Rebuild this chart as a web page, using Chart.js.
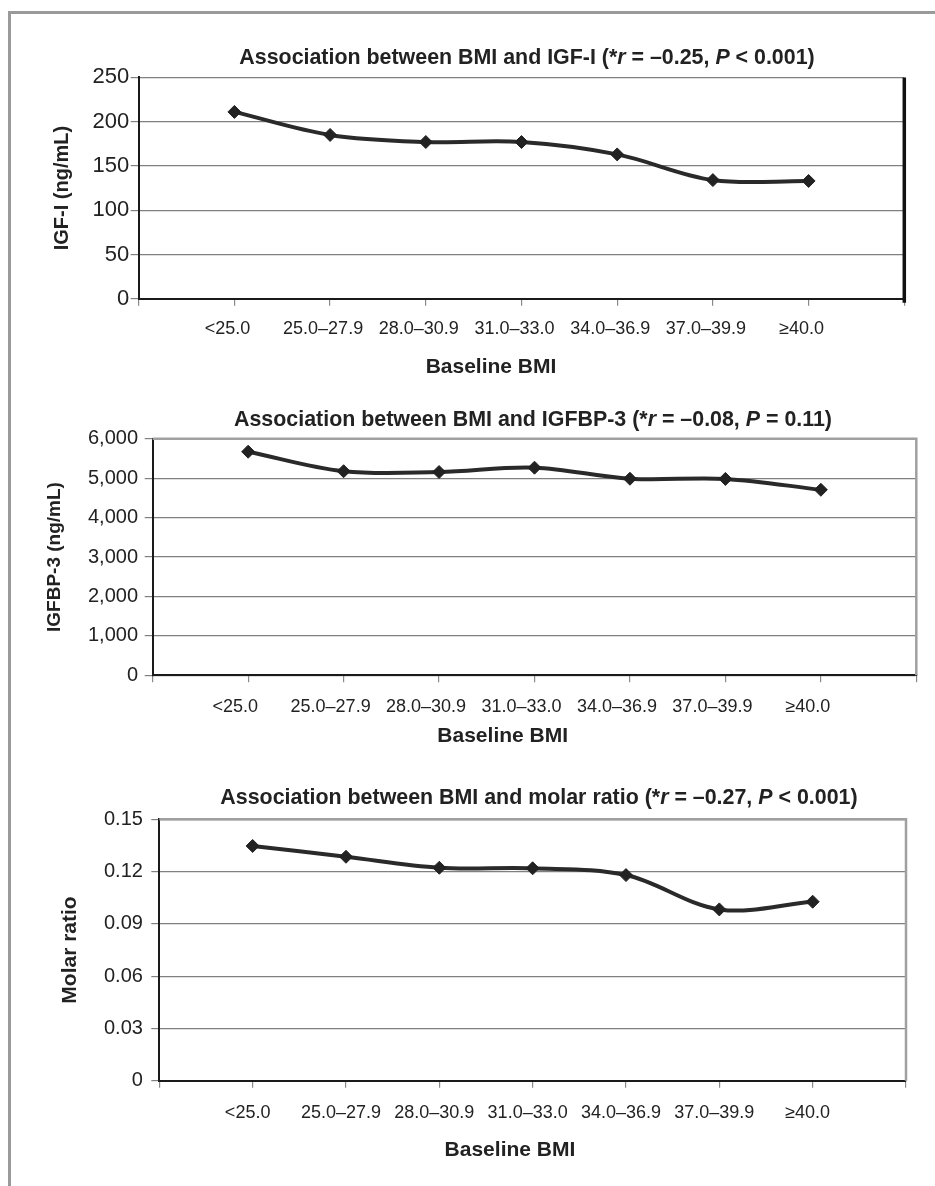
<!DOCTYPE html>
<html>
<head>
<meta charset="utf-8">
<script src="https://cdn.jsdelivr.net/npm/chart.js@4.4.1/dist/chart.umd.min.js"></script>
<style>
  html, body { margin: 0; padding: 0; background: #fff; }
  body { width: 935px; height: 1186px; position: relative; overflow: hidden; }
  #frame { position: absolute; left: 8px; top: 11px; width: 1000px; height: 1300px;
           border-top: 3px solid #9a9a9a; border-left: 3px solid #9a9a9a; }
  .box { position: absolute; left: 0; width: 935px; }
</style>
</head>
<body>
<div id="frame"></div>
<div class="box" style="top:20px;height:375px"><canvas id="c1" width="935" height="375"></canvas></div>
<div class="box" style="top:395px;height:365px"><canvas id="c2" width="935" height="365"></canvas></div>
<div class="box" style="top:760px;height:426px"><canvas id="c3" width="935" height="426"></canvas></div>
<script>
// values
const bmiGroups = ['<25.0', '25.0–27.9', '28.0–30.9', '31.0–33.0', '34.0–36.9', '37.0–39.9', '≥40.0'];
const igf1 = [211, 185, 177, 177, 163, 134, 133];
const igfbp3 = [5670, 5175, 5155, 5265, 4985, 4980, 4705];
const molarRatio = [0.1347, 0.1285, 0.1222, 0.1219, 0.118, 0.0983, 0.1027];

const igf1Ticks = [0, 50, 100, 150, 200, 250];
const igfbp3Ticks = [0, 1000, 2000, 3000, 4000, 5000, 6000];
const molarTicks = [0, 0.03, 0.06, 0.09, 0.12, 0.15];

const FONT = '"Liberation Sans", Arial, Helvetica, sans-serif';
const INK = '#222';

// titles with italic r and P, x axis title, plot frame
const figText = {
  id: 'figText',
  afterDraw(chart, args, o) {
    const ctx = chart.ctx;
    const a = chart.chartArea;
    ctx.save();
    if (o.frame === 'black') {
      ctx.strokeStyle = '#111';
      ctx.lineWidth = 3.5;
      ctx.beginPath();
      ctx.moveTo(a.right, a.top);
      ctx.lineTo(a.right, a.bottom + 4);
      ctx.stroke();
    } else {
      ctx.strokeStyle = '#a0a0a0';
      ctx.lineWidth = 2.5;
      ctx.beginPath();
      ctx.moveTo(a.left, a.top);
      ctx.lineTo(a.right, a.top);
      ctx.lineTo(a.right, a.bottom);
      ctx.stroke();
    }

    ctx.fillStyle = INK;
    ctx.textBaseline = 'middle';
    ctx.textAlign = 'left';
    const bold = 'bold 21.4px ' + FONT;
    const ital = 'italic bold 21.4px ' + FONT;
    let total = 0;
    o.title.forEach(s => { ctx.font = s[1] ? ital : bold; total += ctx.measureText(s[0]).width; });
    let x = (a.left + a.right) / 2 + o.titleDx - total / 2;
    const y = a.top + o.titleDy;
    o.title.forEach(s => {
      ctx.font = s[1] ? ital : bold;
      ctx.fillText(s[0], x, y);
      x += ctx.measureText(s[0]).width;
    });

    ctx.font = 'bold 21px ' + FONT;
    ctx.textAlign = 'center';
    ctx.fillText('Baseline BMI', (a.left + a.right) / 2 + o.xTitleDx, a.bottom + o.xTitleDy);
    ctx.restore();
  }
};

function makeChart(id, values, ticks, fmt, c) {
  return new Chart(document.getElementById(id), {
    type: 'line',
    data: {
      labels: [''].concat(bmiGroups, ['']),
      datasets: [{
        data: [null].concat(values, [null]),
        borderColor: '#2a2a2a',
        borderWidth: 4,
        tension: 0.35,
        pointStyle: 'rectRot',
        pointRadius: 6.5,
        pointBorderWidth: 1,
        pointBackgroundColor: '#222',
        pointBorderColor: '#222'
      }]
    },
    options: {
      responsive: false,
      animation: false,
      layout: { padding: { top: c.padTop, right: c.padRight, left: 0, bottom: 0 } },
      plugins: {
        legend: { display: false },
        tooltip: { enabled: false },
        figText: c.text
      },
      scales: {
        x: {
          offset: false,
          grid: { drawOnChartArea: false, drawTicks: true, tickLength: 7, color: '#8a8a8a', lineWidth: 1.2 },
          border: { color: '#1a1a1a', width: 2 },
          ticks: {
            autoSkip: false, maxRotation: 0, minRotation: 0,
            padding: c.xPad, labelOffset: c.xLabelOffset,
            color: INK, font: { family: FONT, size: 18 }
          },
          afterFit: s => { s.height = c.xHeight; }
        },
        y: {
          min: 0,
          max: ticks[ticks.length - 1],
          afterBuildTicks: s => { s.ticks = ticks.map(v => ({ value: v })); },
          grid: { color: '#808080', lineWidth: 1.2, tickLength: 8, tickColor: '#808080' },
          border: { color: '#1a1a1a', width: 2 },
          ticks: { padding: c.yPad, color: INK, font: { family: FONT, size: c.yTickSize }, callback: v => fmt(v) },
          title: {
            display: true, text: c.yTitle, color: INK,
            font: { family: FONT, size: c.yTitleSize, weight: 'bold' },
            padding: { top: c.yTitlePad, bottom: 0 }
          },
          afterFit: s => { s.width = c.yWidth; }
        }
      }
    },
    plugins: [figText]
  });
}

makeChart('c1', igf1, igf1Ticks, v => String(v), {
  padTop: 57.4, padRight: 30.7, yWidth: 138.7, xHeight: 96.3,
  xPad: 12.5, yPad: 1.5, xLabelOffset: -7, yTickSize: 22,
  yTitle: 'IGF-I (ng/mL)', yTitleSize: 20, yTitlePad: 50,
  text: {
    frame: 'black', titleDx: 5.5, titleDy: -19.4, xTitleDx: -30.5, xTitleDy: 68.6,
    title: [['Association between BMI and IGF-I (*', false], ['r', true], [' = –0.25, ', false], ['P', true], [' < 0.001)', false]]
  }
});

makeChart('c2', igfbp3, igfbp3Ticks, v => v.toLocaleString('en-US'), {
  padTop: 43.7, padRight: 18.7, yWidth: 152.7, xHeight: 84.7,
  xPad: 13.9, yPad: 6.7, xLabelOffset: -13, yTickSize: 20,
  yTitle: 'IGFBP-3 (ng/mL)', yTitleSize: 19, yTitlePad: 43.6,
  text: {
    frame: 'gray', titleDx: -1.5, titleDy: -18.7, xTitleDx: -31.8, xTitleDy: 61.4,
    title: [['Association between BMI and IGFBP-3 (*', false], ['r', true], [' = –0.08, ', false], ['P', true], [' = 0.11)', false]]
  }
});

makeChart('c3', molarRatio, molarTicks, v => (v === 0 ? '0' : v.toFixed(2)), {
  padTop: 59.3, padRight: 29, yWidth: 159.3, xHeight: 105.3,
  xPad: 14.5, yPad: 8.4, xLabelOffset: -5, yTickSize: 20,
  yTitle: 'Molar ratio', yTitleSize: 21, yTitlePad: 58.1,
  text: {
    frame: 'gray', titleDx: 6.3, titleDy: -21, xTitleDx: -22.7, xTitleDy: 70,
    title: [['Association between BMI and molar ratio (*', false], ['r', true], [' = –0.27, ', false], ['P', true], [' < 0.001)', false]]
  }
});
</script>
</body>
</html>
